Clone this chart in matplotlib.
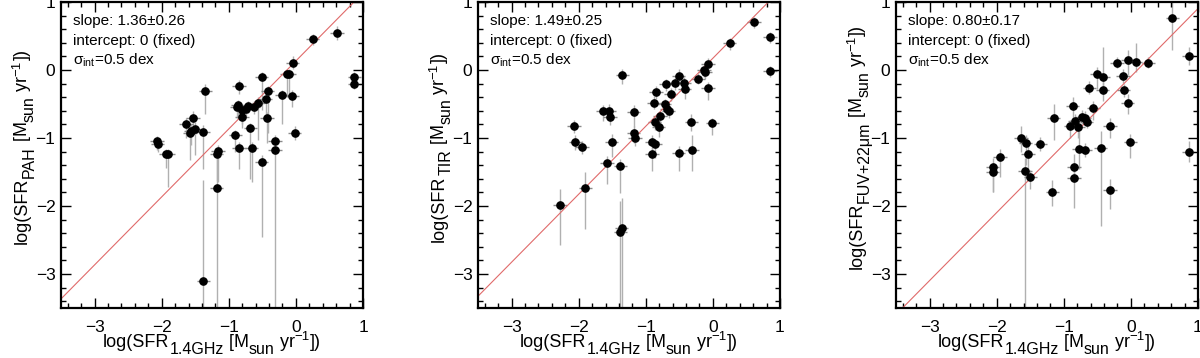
import matplotlib.pyplot as plt
import numpy as np
from matplotlib.transforms import IdentityTransform

plt.rcParams["font.family"] = ["Liberation Sans", "DejaVu Sans"]
plt.rcParams["mathtext.fontset"] = "custom"
plt.rcParams["mathtext.rm"] = "Liberation Sans"
plt.rcParams["mathtext.it"] = "Liberation Sans:italic"
plt.rcParams["mathtext.default"] = "regular"

# Values: x = log SFR(1.4GHz), y = log SFR(tracer),
# ylo / yhi = lower / upper error bars in dex.
pah_x = [0.25, 0.61, -0.05, 0.87, 0.87, -0.51, -0.13, -0.10, -0.85, -1.35,
         -0.42, -0.21, -0.06, -0.45, -0.56, -0.86, -0.88, -0.80, -0.75, -0.71,
         -0.63, -0.80, -0.43, -0.68, -1.53, -1.64, -1.58, -1.56, -1.51, -1.38,
         -0.90, -0.02, -2.07, -2.06, -1.94, -1.90, -0.85, -0.66, -0.31, -0.31,
         -1.16, -1.18, -0.51, -1.18, -1.38]
pah_y = [0.45, 0.54, 0.11, -0.10, -0.21, -0.10, -0.06, -0.06, -0.23, -0.31,
         -0.31, -0.37, -0.38, -0.42, -0.48, -0.52, -0.55, -0.59, -0.57, -0.53,
         -0.54, -0.69, -0.70, -0.86, -0.71, -0.80, -0.93, -0.89, -0.87, -0.91,
         -0.96, -0.93, -1.05, -1.09, -1.24, -1.24, -1.14, -1.14, -1.05, -1.18,
         -1.19, -1.23, -1.35, -1.74, -3.10]
pah_ylo = [0.08, 0.10, 0.10, 0.07, 0.07, 0.49, 0.34, 0.30, 0.12, 0.33,
           0.62, 0.42, 0.17, 0.33, 0.55, 0.18, 0.15, 0.27, 0.10, 0.10,
           0.10, 0.11, 0.38, 0.74, 0.24, 0.20, 0.39, 0.21, 0.38, 0.54,
           0.24, 0.10, 0.12, 0.12, 0.20, 0.48, 0.31, 0.51, 0.10, 2.50,
           0.45, 0.40, 1.10, 2.00, 1.00]
pah_yhi = [0.08, 0.10, 0.09, 0.07, 0.07, 0.07, 0.08, 0.08, 0.08, 0.10,
           0.08, 0.08, 0.08, 0.08, 0.08, 0.08, 0.08, 0.08, 0.08, 0.08,
           0.08, 0.08, 0.08, 0.08, 0.10, 0.10, 0.10, 0.10, 0.10, 0.10,
           0.08, 0.10, 0.08, 0.08, 0.08, 0.08, 0.08, 0.08, 0.10, 0.10,
           0.08, 0.08, 0.10, 0.45, 1.48]

tir_x = [0.61, 0.85, 0.85, 0.25, -0.07, -0.13, -0.12, -0.07, -0.01, -0.32,
         -0.31, -0.51, -0.22, -0.51, -0.56, -0.43, -0.42, -0.70, -0.63, -0.85,
         -0.88, -0.72, -0.69, -0.66, -0.79, -0.87, -0.81, -1.18, -1.18, -1.16,
         -0.91, -0.86, -0.91, -1.35, -1.64, -1.55, -1.53, -2.07, -2.05, -1.95,
         -1.51, -1.58, -1.38, -1.90, -2.28, -1.36, -1.38]
tir_y = [0.70, 0.48, -0.02, 0.39, 0.09, 0.00, -0.03, -0.26, -0.78, -0.77,
         -1.18, -1.22, -0.13, -0.09, -0.19, -0.19, -0.28, -0.21, -0.35, -0.33,
         -0.48, -0.50, -0.58, -0.60, -0.68, -0.76, -0.84, -0.62, -0.92, -1.00,
         -1.06, -1.09, -1.23, -0.08, -0.60, -0.60, -0.69, -0.83, -1.06, -1.13,
         -1.06, -1.37, -1.41, -1.74, -1.98, -2.33, -2.38]
tir_ylo = [0.08, 0.08, 0.08, 0.10, 0.10, 0.10, 0.10, 0.18, 0.18, 0.12,
           0.30, 0.27, 0.08, 0.10, 0.10, 0.10, 0.15, 0.10, 0.10, 0.10,
           0.10, 0.10, 0.10, 0.10, 0.12, 0.12, 0.14, 0.22, 0.15, 0.12,
           0.12, 0.20, 0.25, 0.12, 0.15, 0.12, 0.12, 0.10, 0.12, 0.10,
           0.22, 0.30, 0.40, 0.60, 0.60, 1.50, 1.50]
tir_yhi = [0.08, 0.08, 0.08, 0.08, 0.08, 0.08, 0.08, 0.08, 0.08, 0.12,
           0.22, 0.10, 0.08, 0.10, 0.08, 0.08, 0.08, 0.08, 0.08, 0.10,
           0.10, 0.08, 0.08, 0.08, 0.08, 0.08, 0.08, 0.10, 0.10, 0.08,
           0.10, 0.08, 0.10, 0.10, 0.08, 0.10, 0.10, 0.10, 0.10, 0.08,
           0.12, 0.10, 0.10, 0.24, 0.23, 0.45, 0.45]

fuv_x = [0.62, 0.86, 0.86, 0.26, 0.07, -0.05, -0.21, -0.12, -0.11, -0.05,
         -0.01, -0.51, -0.41, -0.42, -0.62, -0.56, -0.87, -0.84, -0.90, -0.79,
         -0.73, -0.69, -0.66, -0.31, -0.78, -0.68, -0.45, -0.85, -0.85, -0.31,
         -1.15, -1.35, -1.64, -1.57, -1.53, -1.95, -2.06, -2.06, -1.58, -1.50,
         -1.17]
fuv_y = [0.76, 0.20, -1.20, 0.11, 0.12, 0.14, 0.11, -0.09, -0.30, -0.49,
         -1.06, -0.06, -0.11, -0.30, -0.26, -0.56, -0.53, -0.75, -0.83, -0.84,
         -0.69, -0.70, -0.76, -0.83, -1.16, -1.18, -1.14, -1.43, -1.59, -1.77,
         -0.71, -1.09, -1.00, -1.08, -1.24, -1.28, -1.43, -1.50, -1.49, -1.57,
         -1.79]
fuv_ylo = [0.47, 0.13, 0.15, 0.08, 0.15, 0.22, 0.08, 0.10, 0.10, 0.15,
           0.24, 0.22, 0.12, 0.15, 0.10, 0.18, 0.22, 0.10, 0.17, 0.16,
           0.10, 0.10, 0.10, 0.17, 0.29, 0.10, 1.16, 0.15, 0.44, 0.28,
           0.32, 0.10, 0.20, 0.32, 0.31, 0.30, 0.36, 0.30, 2.10, 0.18,
           0.21]
fuv_yhi = [0.24, 0.14, 0.15, 0.08, 0.27, 0.16, 0.08, 0.10, 0.10, 0.14,
           0.12, 0.10, 0.45, 0.12, 0.10, 0.10, 0.13, 0.10, 0.10, 0.10,
           0.10, 0.10, 0.10, 0.13, 0.26, 0.10, 0.24, 0.20, 0.15, 0.16,
           0.21, 0.10, 0.17, 0.12, 0.12, 0.12, 0.13, 0.10, 0.20, 0.10,
           0.17]

XERR = 0.1

slopes = [1.36, 1.49, 0.80]
slope_errs = [0.26, 0.25, 0.17]
y_names = ["PAH", "TIR", "FUV+22\u03bcm"]
x_name = "1.4GHz"

XLIM = (-3.5, 1.0)
YLIM = (-3.5, 1.0)
TICKS = [-3, -2, -1, 0, 1]
TICK_LABELS = ["\u22123", "\u22122", "\u22121", "0", "1"]

FIG_W, FIG_H = 1200, 358
MAIN_SIZE = 13
SUB_SIZE = 11.5
SUP_SIZE = 9.5
SUB_SHIFT = -7
SUP_SHIFT = 7


def label_pieces(name):
    # IDL-style label: big subscripts, dropped well below the baseline.
    return [
        ("log(SFR", MAIN_SIZE, 0),
        (name, SUB_SIZE, SUB_SHIFT),
        (" [M", MAIN_SIZE, 0),
        ("sun", SUB_SIZE, SUB_SHIFT),
        (" yr", MAIN_SIZE, 0),
        ("\u22121", SUP_SIZE, SUP_SHIFT),
        ("])", MAIN_SIZE, 0),
    ]


def rich_label(fig, renderer, x0, y0, pieces, vertical=False):
    # x0, y0 in pixels from the bottom-left; the label is centred on the
    # running coordinate and its main baseline passes through the other one.
    texts = []
    widths = []
    for text, size, _ in pieces:
        t = fig.text(0, 0, text, fontsize=size, transform=IdentityTransform(),
                     ha="left", va="baseline", rotation_mode="anchor")
        texts.append(t)
        widths.append(t.get_window_extent(renderer).width)
    total = sum(widths)
    pos = (y0 if vertical else x0) - total / 2
    for t, w, (_, _, shift) in zip(texts, widths, pieces):
        if vertical:
            t.set_rotation(90)
            t.set_position((x0 - shift, pos))
        else:
            t.set_position((pos, y0 + shift))
        pos += w


def plot_panel(ax, x, y, ylo, yhi, slope, slope_err):
    ax.errorbar(x, y, yerr=[ylo, yhi], fmt="none", ecolor="#b0b0b0",
                elinewidth=1.0, capsize=0, zorder=1)
    ax.errorbar(x, y, xerr=XERR, fmt="none", ecolor="#8a8a8a",
                elinewidth=1.0, capsize=0, zorder=1)
    ax.plot(x, y, "o", color="black", markersize=5.2, zorder=3)

    line_x = np.array(XLIM)
    ax.plot(line_x, line_x + np.log10(slope), color="#e06a6a", linewidth=0.8,
            zorder=2)

    ax.set_xlim(*XLIM)
    ax.set_ylim(*YLIM)
    ax.set_xticks(TICKS)
    ax.set_yticks(TICKS)
    ax.set_xticklabels(TICK_LABELS)
    ax.set_yticklabels(TICK_LABELS)
    ax.minorticks_on()
    ax.tick_params(which="both", direction="in", top=True, right=True,
                   labelsize=12.5, width=1.0)
    ax.tick_params(which="major", length=7)
    ax.tick_params(which="minor", length=3.5)
    ax.tick_params(axis="x", which="both", pad=9)
    ax.tick_params(axis="y", which="both", pad=4)
    for spine in ax.spines.values():
        spine.set_linewidth(1.6)

    lines = [f"slope: {slope:.2f}\u00b1{slope_err:.2f}",
             "intercept: 0 (fixed)",
             r"$\sigma_{int}$=0.5 dex"]
    for i, line in enumerate(lines):
        ax.text(0.04, 0.925 - i * 0.064, line, transform=ax.transAxes,
                fontsize=11, va="baseline")


def main():
    fig = plt.figure(figsize=(FIG_W / 100, FIG_H / 100), dpi=100)
    renderer = fig.canvas.get_renderer()
    top_px, bottom_px = 2, 308
    width_px = 302
    lefts_px = [61, 478, 896]
    series = [
        (pah_x, pah_y, pah_ylo, pah_yhi),
        (tir_x, tir_y, tir_ylo, tir_yhi),
        (fuv_x, fuv_y, fuv_ylo, fuv_yhi),
    ]
    for i, (x, y, ylo, yhi) in enumerate(series):
        ax = fig.add_axes([lefts_px[i] / FIG_W, (FIG_H - bottom_px) / FIG_H,
                           width_px / FIG_W, (bottom_px - top_px) / FIG_H])
        plot_panel(ax, x, y, ylo, yhi, slopes[i], slope_errs[i])

        center_x = lefts_px[i] + width_px / 2
        rich_label(fig, renderer, center_x, 11, label_pieces(x_name))
        center_y = FIG_H - (top_px + bottom_px) / 2 + 8
        rich_label(fig, renderer, lefts_px[i] - 34, center_y,
                   label_pieces(y_names[i]), vertical=True)
    fig.savefig("out.png", dpi=100)


if __name__ == "__main__":
    main()
